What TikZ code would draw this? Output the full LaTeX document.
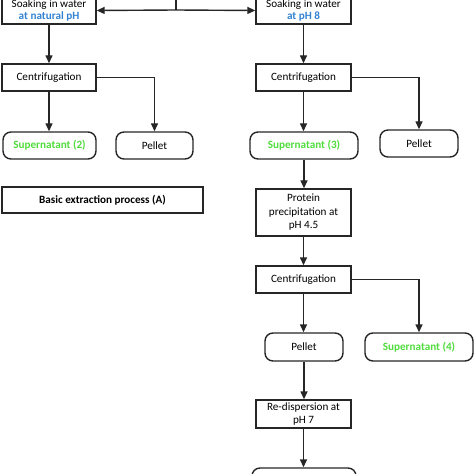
\documentclass[tikz,border=0pt]{standalone}
\usepackage{fontspec}
\setmainfont{Carlito}
\usetikzlibrary{arrows.meta}
\definecolor{grn}{RGB}{80,220,60}
\definecolor{blu}{RGB}{50,130,210}
\tikzset{
  box/.style={draw=black!85, line width=1.4bp, rectangle, inner sep=0pt, align=center,
    font=\fontsize{11.2}{13.5}\selectfont, minimum height=27bp},
  rbox/.style={box, rounded corners=8bp},
  arr/.style={line width=1.4bp, draw=black!85, -{Triangle[length=8bp,width=7bp]}},
  ln/.style={line width=1.4bp, draw=black!85},
  gtxt/.style={text=grn, font=\fontsize{11.2}{13.5}\selectfont\bfseries},
}
\begin{document}
\begin{tikzpicture}[x=1bp,y=-1bp]
\useasboundingbox (0,0) rectangle (474,474);
\clip (0,0) rectangle (474,474);
\node[box, minimum width=94bp] (soakL) at (49,10.5) {Soaking in water\\[-1bp]\textcolor{blu}{\bfseries at natural pH}};
\node[box, minimum width=95bp] (soakR) at (303.5,10.5) {Soaking in water\\[-1bp]\textcolor{blu}{\bfseries at pH 8}};
\coordinate (top) at (176,-5);
\coordinate (jn) at (176,10);
\node[box, minimum width=94bp] (centL) at (49,77.5) {Centrifugation};
\node[box, minimum width=95bp] (centR) at (303.5,77.5) {Centrifugation};
\node[rbox, gtxt, minimum width=93bp] (sup2) at (49.5,145.5) {Supernatant (2)};
\node[rbox, minimum width=77bp] (pelL) at (154.5,145.5) {Pellet};
\node[rbox, gtxt, minimum width=108bp] (sup3) at (304,145.5) {Supernatant (3)};
\node[rbox, minimum width=78bp] (pelR) at (419,143.5) {Pellet};
\node[box, minimum width=201bp, minimum height=26bp, font=\fontsize{11.2}{13.5}\selectfont\bfseries] (basic) at (102.5,200) {Basic extraction process (A)};
\node[box, minimum width=95bp, minimum height=47bp] (prot) at (303.5,212.5) {Protein\\precipitation at\\pH 4.5};
\node[box, minimum width=95bp] (cent2) at (303.5,279.5) {Centrifugation};
\node[rbox, minimum width=78bp, minimum height=28bp] (pel2) at (304,347) {Pellet};
\node[rbox, gtxt, minimum width=108bp, minimum height=28bp] (sup4) at (419,347) {Supernatant (4)};
\node[box, minimum width=95bp, minimum height=28bp] (redisp) at (303.5,414) {Re-dispersion at\\pH 7};
\node[rbox, minimum width=104bp, minimum height=26bp] (final) at (304,481) {};
% connectors
\draw[ln] (top) -- (jn);
\draw[arr] (jn) -- (soakL.east);
\draw[arr] (jn) -- (soakR.west);
\draw[arr] (soakL.south) -- (centL.north);
\draw[arr] (soakR.south) -- (centR.north);
\draw[arr] (centL.south) -- (centL.south |- sup2.north);
\draw[arr] (centL.east) -| (pelL.north);
\draw[arr] (centR.south) -- (centR.south |- sup3.north);
\draw[arr] (centR.east) -| (pelR.north);
\draw[arr] (sup3.south) -- (sup3.south |- prot.north);
\draw[arr] (prot.south) -- (cent2.north);
\draw[arr] (cent2.south) -- (cent2.south |- pel2.north);
\draw[arr] (cent2.east) -| (sup4.north);
\draw[arr] (pel2.south) -- (pel2.south |- redisp.north);
\draw[arr] (redisp.south) -- (redisp.south |- final.north);
\end{tikzpicture}
\end{document}
